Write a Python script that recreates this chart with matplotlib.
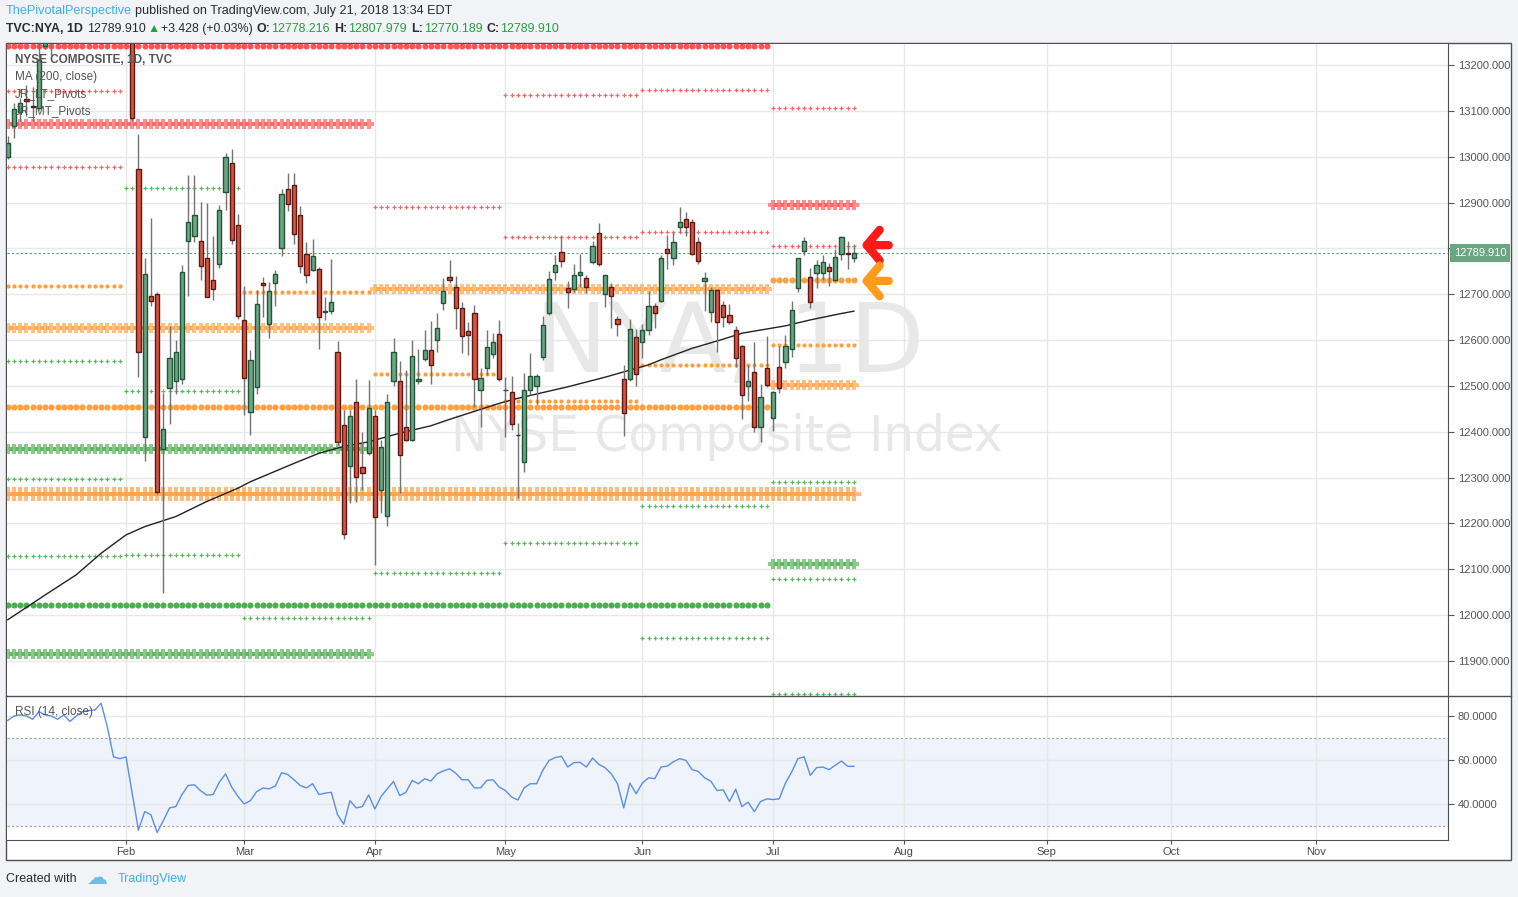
import numpy as np
import matplotlib
matplotlib.use("Agg")
import matplotlib.pyplot as plt
from matplotlib.patches import Rectangle
from matplotlib.lines import Line2D
from matplotlib.ticker import FuncFormatter, FormatStrFormatter
import matplotlib.transforms as mtransforms

FONT = ['Liberation Sans', 'DejaVu Sans']
plt.rcParams['font.family'] = FONT

# trading-day index, 0 = Feb 1 2018, last bar = Jul 20 2018
bars = np.arange(-19, 118)

opens = [13000, 13068, 13097, 13125, 13111, 13106, 13241, 13290, 13300, 13360,
         13340, 13390, 13460, 13470, 13440, 13470, 13637, 13530, 13380, 13390,
         13360, 12974, 12388, 12697, 12701, 12362, 12496, 12511, 12515, 12817,
         12827, 12817, 12778, 12732, 12767, 12922, 12986, 12851, 12644, 12443,
         12498, 12724, 12634, 12725, 12801, 12930, 12938, 12873, 12788, 12753,
         12755, 12661, 12664, 12575, 12414, 12326, 12465, 12324, 12354, 12434,
         12274, 12217, 12511, 12511, 12411, 12382, 12510, 12559, 12579, 12601,
         12680, 12737, 12715, 12671, 12619, 12660, 12492, 12540, 12569, 12614,
         12490, 12486, 12394, 12334, 12492, 12499, 12564, 12660, 12749, 12793,
         12713, 12711, 12741, 12735, 12771, 12833, 12701, 12715, 12647, 12516,
         12514, 12606, 12596, 12621, 12674, 12685, 12798, 12778, 12846, 12864,
         12857, 12813, 12728, 12661, 12709, 12677, 12655, 12622, 12587, 12500,
         12530, 12411, 12538, 12431, 12542, 12553, 12580, 12713, 12795, 12738,
         12747, 12746, 12759, 12731, 12787, 12789, 12778.216]
highs = [13046, 13117, 13128, 13156, 13152, 13250, 13300, 13310, 13365, 13370,
         13395, 13465, 13490, 13500, 13480, 13640, 13640, 13535, 13420, 13420,
         13370, 13050, 12780, 12867, 12705, 12485, 12630, 12600, 12764, 12961,
         12961, 12902, 12898, 12828, 12895, 13007, 13017, 12874, 12717, 12578,
         12710, 12737, 12726, 12753, 12930, 12964, 12964, 12893, 12815, 12821,
         12760, 12694, 12776, 12597, 12447, 12447, 12516, 12400, 12512, 12447,
         12382, 12483, 12605, 12554, 12534, 12601, 12581, 12623, 12641, 12660,
         12735, 12775, 12740, 12682, 12640, 12676, 12539, 12622, 12615, 12644,
         12520, 12521, 12419, 12529, 12571, 12525, 12652, 12751, 12786, 12826,
         12729, 12766, 12788, 12742, 12817, 12856, 12743, 12725, 12652, 12545,
         12647, 12625, 12636, 12706, 12680, 12785, 12829, 12835, 12890, 12879,
         12865, 12824, 12748, 12716, 12712, 12685, 12679, 12630, 12590, 12546,
         12595, 12504, 12609, 12488, 12586, 12611, 12686, 12780, 12824, 12757,
         12775, 12786, 12768, 12798, 12827, 12816, 12807.979]
lows = [12995, 13041, 13078, 13089, 13078, 13101, 13235, 13222, 13285, 13320,
        13330, 13380, 13440, 13410, 13420, 13465, 13520, 13370, 13340, 13330,
        13078, 12520, 12337, 12675, 12265, 12049, 12418, 12482, 12505, 12696,
        12815, 12731, 12695, 12688, 12757, 12883, 12810, 12645, 12436, 12393,
        12483, 12650, 12604, 12674, 12783, 12882, 12810, 12746, 12724, 12750,
        12581, 12644, 12657, 12371, 12166, 12244, 12247, 12273, 12350, 12109,
        12222, 12195, 12500, 12266, 12380, 12380, 12504, 12555, 12505, 12574,
        12665, 12725, 12625, 12572, 12567, 12454, 12411, 12523, 12560, 12510,
        12389, 12403, 12256, 12312, 12480, 12460, 12556, 12655, 12732, 12759,
        12671, 12705, 12716, 12703, 12765, 12762, 12673, 12627, 12609, 12390,
        12510, 12499, 12560, 12612, 12626, 12683, 12754, 12764, 12835, 12827,
        12786, 12765, 12663, 12640, 12573, 12629, 12636, 12542, 12427, 12468,
        12400, 12378, 12498, 12402, 12485, 12540, 12564, 12705, 12786, 12669,
        12713, 12731, 12719, 12728, 12775, 12754, 12770.189]
closes = [13029, 13105, 13117, 13122, 13108, 13210, 13290, 13300, 13360, 13340,
          13390, 13460, 13470, 13440, 13470, 13637, 13530, 13380, 13390, 13360,
          13085, 12573, 12745, 12686, 12269, 12405, 12560, 12575, 12748, 12857,
          12873, 12762, 12695, 12712, 12884, 13000, 12819, 12653, 12518, 12557,
          12679, 12720, 12708, 12745, 12919, 12897, 12832, 12762, 12742, 12784,
          12650, 12664, 12684, 12377, 12176, 12434, 12302, 12309, 12451, 12215,
          12366, 12465, 12573, 12349, 12382, 12566, 12514, 12579, 12546, 12627,
          12707, 12732, 12671, 12608, 12610, 12514, 12518, 12584, 12595, 12515,
          12492, 12418, 12393, 12492, 12521, 12521, 12633, 12733, 12764, 12772,
          12704, 12743, 12748, 12716, 12805, 12767, 12743, 12697, 12634, 12442,
          12625, 12527, 12621, 12674, 12658, 12778, 12789, 12813, 12857, 12846,
          12788, 12773, 12735, 12709, 12639, 12650, 12640, 12560, 12480, 12511,
          12411, 12475, 12503, 12486, 12495, 12587, 12666, 12778, 12816, 12682,
          12764, 12770, 12750, 12781, 12824, 12788, 12789.910]

rsi = [78, 80, 80.5, 80, 78.5, 82, 80.5, 80, 78.5, 80.5,
       77.5, 80, 82, 82.5, 82.7, 85.8, 75, 61.4, 60.6, 61.4,
       44.6, 28.1, 36.5, 35.1, 27, 32.4, 38.2, 38.8, 44.3, 48.4,
       48.7, 46, 44, 44.3, 49.9, 53.7, 47.6, 43.4, 40, 41.5,
       45.6, 47.2, 46.9, 48.1, 54.2, 53.4, 51, 48.4, 47.3, 49.2,
       44.3, 44.9, 45.3, 35.1, 30.8, 41.5, 38.2, 38.8, 44.1, 37.7,
       43.4, 46.9, 50.2, 43.8, 45.3, 50.7, 49.2, 51.5, 50.4, 53.7,
       55, 56, 54, 51, 51, 47.3, 47.3, 50.7, 51, 47.6,
       46.1, 43.1, 41.8, 47.3, 49.2, 49.2, 55.3, 59.8, 61.1, 61.7,
       56.8, 58.8, 58.9, 56.8, 60.9, 58, 56.5, 53.7, 49.2, 38.2,
       49.5, 44.6, 49.5, 51.9, 51.5, 56.8, 57.2, 59.2, 60.6, 59.8,
       55.6, 54.8, 51.9, 50.4, 46.1, 46.4, 41.1, 46.7, 38.8, 40.8,
       36.5, 41.1, 42.3, 42, 42.3, 49.5, 54.5, 60.6, 61.4, 53,
       56.5, 56.8, 55.6, 57.6, 59.5, 57.1, 57.1]

# 200 day MA, read at a few bars
ma_bar = [-19, -13, -8, -4, 0, 3, 8, 13, 18, 20, 27, 31, 35, 39, 44, 49, 52,
          60, 63, 71, 77, 84, 86, 91, 96, 99, 106, 110, 115, 117]
ma_val = [11990, 12044, 12088, 12135, 12175, 12193, 12215, 12248, 12277, 12291,
          12331, 12353, 12368, 12378, 12397, 12413, 12427, 12462, 12473, 12498,
          12519, 12546, 12557, 12582, 12602, 12615, 12631, 12644, 12658, 12663]

# pivot levels: (period, price, kind)
period_span = {'jan': (-19, -1), 'feb': (0, 18), 'mar': (19, 39), 'apr': (40, 60),
               'may': (61, 82), 'jun': (83, 103), 'jul': (104, 117),
               'q1': (-19, 39), 'q2': (40, 103), 'q3': (104, 117),
               'h1': (-19, 103), 'h2': (104, 117), 'y': (-19, 117)}
red_levels = [('h1', 13242, 'circle'), ('q1', 13071, 'thick'), ('jan', 13143, 'small'),
              ('jan', 12978, 'small'), ('apr', 12890, 'small'), ('may', 13135, 'small'),
              ('may', 12825, 'small'), ('jun', 13145, 'small'), ('jun', 12836, 'small'),
              ('jul', 13106, 'small'), ('jul', 12805, 'small'), ('q3', 12895, 'thick')]
orange_levels = [('jan', 12718, 'dot'), ('q1', 12626, 'thick'), ('mar', 12705, 'dot'),
                 ('q2', 12712, 'thick'), ('apr', 12527, 'dot'), ('h1', 12455, 'circle'),
                 ('may', 12467, 'dot'), ('jun', 12546, 'dot'), ('y', 12265, 'huge'),
                 ('h2', 12730, 'circle'), ('jul', 12590, 'dot'), ('q3', 12501, 'thick')]
green_levels = [('jan', 12555, 'small'), ('jan', 12296, 'small'), ('jan', 12130, 'small'),
                ('feb', 12931, 'small'), ('feb', 12488, 'small'), ('feb', 12132, 'small'),
                ('mar', 11994, 'small'), ('apr', 12092, 'small'), ('may', 12158, 'small'),
                ('jun', 12239, 'small'), ('jun', 11951, 'small'), ('jul', 12291, 'small'),
                ('jul', 12078, 'small'), ('jul', 11828, 'small'), ('q1', 12362, 'thick'),
                ('q1', 11915, 'thick'), ('q3', 12111, 'thick'), ('h1', 12022, 'circle')]

arrow_prices = [12807, 12729]
arrow_colors = ['#ff1a1a', '#ff9a1a']

month_pos = [0, 19, 40, 61, 83, 104, 125, 148, 168, 191.3]
month_names = ['Feb', 'Mar', 'Apr', 'May', 'Jun', 'Jul', 'Aug', 'Sep', 'Oct', 'Nov']
price_ticks = list(range(11900, 13201, 100))
rsi_ticks = [40, 60, 80]

opens = np.array(opens)
closes = np.array(closes)
highs = np.array(highs)
lows = np.array(lows)

W, H = 1518, 897
fig = plt.figure(figsize=(W / 100, H / 100), dpi=100, facecolor='#f1f3f6')


def fx(x):
    return x / W


def fy(y):
    return 1 - y / H


frame = Rectangle((fx(6), fy(860)), 1505 / W, 817 / H, transform=fig.transFigure,
                  facecolor='white', edgecolor='#505050', lw=1, zorder=-1)
fig.patches.append(frame)

ax = fig.add_axes([fx(7), fy(695), 1441 / W, 651 / H])
ax2 = fig.add_axes([fx(7), fy(840), 1441 / W, 144 / H], sharex=ax)

# ---- main panel
ax.set_xlim(-19.13, 212.5)
ax.set_ylim(11825.8, 13245.8)
ax.set_axisbelow(True)
ax.grid(True, color='#e8e8e8', lw=1)
ax.set_xticks(month_pos)
ax.set_yticks(price_ticks)
ax.yaxis.tick_right()


# the 12800 label sits under the last-price tag
def price_fmt(v, pos):
    if abs(v - closes[-1]) < 30:
        return ''
    return '%.3f' % v


ax.yaxis.set_major_formatter(FuncFormatter(price_fmt))
ax.tick_params(axis='x', length=0, labelbottom=False)
ax.tick_params(axis='y', length=4, width=0.8, color='#555555', labelsize=8,
               labelcolor='#555555', pad=3)
for s in ['left', 'top', 'bottom']:
    ax.spines[s].set_visible(False)
ax.spines['right'].set_color('#505050')

# watermark
ax.text(0.5017, 0.5376, 'NYA, 1D', transform=ax.transAxes, ha='center', va='center',
        fontsize=70, color='#e8e8e8', family='DejaVu Sans', zorder=1)
ax.text(0.4997, 0.3963, 'NYSE Composite Index', transform=ax.transAxes, ha='center',
        va='center', fontsize=35, color='#e8e8e8', family='DejaVu Sans', zorder=1)

marker_style = {
    'small': dict(marker='+', markersize=3.2, markeredgewidth=0.9, alpha=0.9),
    'dot': dict(marker='o', markersize=3.0, markeredgewidth=0),
    'circle': dict(marker='o', markersize=4.4, markeredgewidth=0),
    'thick': dict(marker='P', markersize=6.5, markeredgewidth=0, alpha=0.65),
    'huge': dict(marker='P', markersize=9.5, markeredgewidth=0, alpha=0.7),
}
for levels, color in ((red_levels, '#ff5252'), (orange_levels, '#ffa040'),
                      (green_levels, '#4caf50')):
    for period, price, kind in levels:
        a, b = period_span[period]
        xs = np.arange(a, b + 1)
        ax.plot(xs, np.full(len(xs), price), ls='none', color=color, zorder=2,
                **marker_style[kind])

# last price line
ax.axhline(closes[-1], color='#4f9a74', lw=0.8, ls=(0, (2, 2)), zorder=2.5)

ax.plot(ma_bar, ma_val, color='#222222', lw=1, zorder=3)

# candles
up = closes >= opens
body_lo = np.minimum(opens, closes)
body_h = np.maximum(np.abs(closes - opens), 0.8)
ax.vlines(bars, lows, highs, color='#737375', lw=1, zorder=4)
ax.bar(bars[up], body_h[up], bottom=body_lo[up], width=0.68, color='#6ba583',
       edgecolor='#225437', lw=1, zorder=5)
ax.bar(bars[~up], body_h[~up], bottom=body_lo[~up], width=0.68, color='#d75442',
       edgecolor='#5b1a13', lw=1, zorder=5)

# arrows next to the last bar
for price, col in zip(arrow_prices, arrow_colors):
    ax.annotate('', xy=(bars[-1] + 1.2, price), xytext=(bars[-1] + 5.6, price),
                arrowprops=dict(arrowstyle='->,head_length=0.42,head_width=0.5',
                                color=col, lw=6, mutation_scale=22, shrinkA=0,
                                shrinkB=0, capstyle='round', joinstyle='round'))

# last price tag on the axis
tr = mtransforms.blended_transform_factory(ax.transAxes, ax.transData)
ax.text(1.0 + 6 / 1441, closes[-1], '%.3f' % closes[-1], transform=tr, ha='left',
        va='center', fontsize=8, color='white', zorder=10, clip_on=False,
        bbox=dict(boxstyle='square,pad=0.35', fc='#6ba583', ec='none'))

# legend texts
fig.text(fx(15), fy(60), 'NYSE COMPOSITE, 1D, TVC', fontsize=8.5, fontweight='bold',
         color='#555555', va='center', zorder=20)
for yy, s in zip([77, 94, 111], ['MA (200, close)', 'JR_LT_Pivots', 'JR_MT_Pivots']):
    fig.text(fx(15), fy(yy), s, fontsize=8.5, color='#555555', va='center', zorder=20)

# ---- RSI panel
ax2.set_ylim(23.6, 89.1)
ax2.set_axisbelow(True)
ax2.grid(True, color='#e8e8e8', lw=1)
ax2.axhspan(30, 70, color='#eef3fc', zorder=0.2, lw=0)
for lvl in (30, 70):
    ax2.axhline(lvl, color='#a0a0a0', lw=0.8, ls=(0, (2, 2)), zorder=1)
ax2.plot(bars, rsi, color='#5b8ee6', lw=1, zorder=3)
ax2.set_yticks(rsi_ticks)
ax2.yaxis.tick_right()
ax2.yaxis.set_major_formatter(FormatStrFormatter('%.4f'))
ax2.set_xticks(month_pos)
ax2.set_xticklabels(month_names)
ax2.tick_params(axis='y', length=4, width=0.8, color='#555555', labelsize=8,
                labelcolor='#555555', pad=3)
ax2.tick_params(axis='x', length=3, width=0.8, color='#555555', labelsize=8,
                labelcolor='#4a4a4a', pad=2)
for s in ['left', 'top']:
    ax2.spines[s].set_visible(False)
ax2.spines['right'].set_color('#505050')
ax2.spines['bottom'].set_color('#505050')
fig.text(fx(15), fy(712), 'RSI (14, close)', fontsize=8.5, color='#555555', va='center',
         zorder=20)

# panel separator across the price scale
fig.lines.append(Line2D([fx(6), fx(1511)], [fy(695.5), fy(695.5)], transform=fig.transFigure,
                        color='#505050', lw=1, zorder=5))

# ---- header and footer
renderer = fig.canvas.get_renderer()


def text_run(x_px, y_px, parts, size):
    for s, col, wt, gap in parts:
        t = fig.text(fx(x_px), fy(y_px), s, color=col, fontsize=size, fontweight=wt,
                     va='center', ha='left')
        x_px += t.get_window_extent(renderer=renderer).width + gap


dark = '#2b2b2b'
green = '#2a9d3f'
text_run(6, 11, [('ThePivotalPerspective', '#3bb3e4', 'normal', 3),
                 ('published on TradingView.com, July 21, 2018 13:34 EDT', dark, 'normal', 0)], 9.1)
text_run(6, 29, [('TVC:NYA, 1D', dark, 'bold', 4),
                 ('12789.910', dark, 'normal', 1.5),
                 ('\u25b2', green, 'normal', 1.5),
                 ('+3.428 (+0.03%)', dark, 'normal', 4),
                 ('O:', dark, 'bold', 1), ('12778.216', green, 'normal', 4),
                 ('H:', dark, 'bold', 1), ('12807.979', green, 'normal', 4),
                 ('L:', dark, 'bold', 1), ('12770.189', green, 'normal', 4),
                 ('C:', dark, 'bold', 1), ('12789.910', green, 'normal', 0)], 8.9)

fig.text(fx(6), fy(879), 'Created with', fontsize=9, color=dark, va='center')
fig.text(fx(87), fy(878), '\u2601', fontsize=15, color='#6cbde9', va='center',
         family='DejaVu Sans')
fig.text(fx(118), fy(879), 'TradingView', fontsize=9, color='#3bb3e4', va='center')

fig.savefig('out.png', dpi=100, facecolor=fig.get_facecolor())
